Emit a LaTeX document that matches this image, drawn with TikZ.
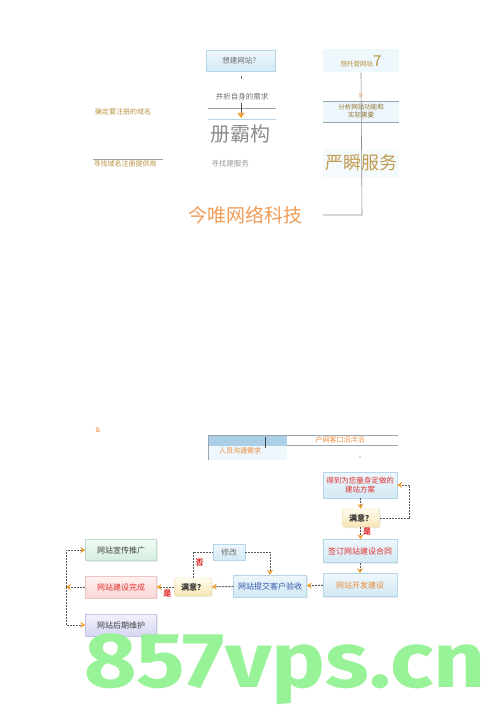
\documentclass[tikz,border=0pt]{standalone}
\usepackage{fontspec}
\setmainfont{Noto Sans CJK SC}
\newfontfamily\markfont{Fira Sans}
\usetikzlibrary{arrows.meta}
\usetikzlibrary{shadows}
\definecolor{boxline}{HTML}{B4D6E8}
\definecolor{boxtop}{HTML}{EEF7FC}
\definecolor{boxbottom}{HTML}{D2E9F4}
\definecolor{headfill}{HTML}{AACFE6}
\definecolor{rulegrey}{HTML}{9AA6AE}
\definecolor{labelgrey}{HTML}{6E6E6E}
\definecolor{goldtext}{HTML}{B8923E}
\definecolor{orangetext}{HTML}{EC8A3A}
\definecolor{redtext}{HTML}{E03030}
\definecolor{bluetext}{HTML}{3355AA}
\definecolor{flowline}{HTML}{5A5A5A}
\definecolor{tipcolor}{HTML}{F0A030}
\definecolor{queryline}{HTML}{E8D49A}
\definecolor{querytop}{HTML}{FFFCEE}
\definecolor{querybottom}{HTML}{F6E6B4}
\definecolor{pinkline}{HTML}{EEC4C4}
\definecolor{pinktop}{HTML}{FFF2F2}
\definecolor{pinkbottom}{HTML}{FAD6D6}
\definecolor{greenline}{HTML}{BEDDCB}
\definecolor{greentop}{HTML}{F2FBF5}
\definecolor{greenbottom}{HTML}{D4EDDE}
\definecolor{purpleline}{HTML}{C4C4E6}
\definecolor{purpletop}{HTML}{F3F3FD}
\definecolor{purplebottom}{HTML}{D6D6F2}
\definecolor{markgreen}{HTML}{98F298}
\tikzstyle{ask box}=[draw=boxline, top color=boxtop, bottom color=boxbottom, minimum width=69pt, minimum height=21pt, inner sep=0pt, text=labelgrey, font=\fontsize{7.5}{9}\selectfont]
\tikzstyle{host box}=[fill=boxtop, minimum width=76pt, minimum height=23pt, inner sep=0pt, text=goldtext, font=\fontsize{6.5}{8}\selectfont]
\tikzstyle{small note}=[inner sep=0pt, font=\fontsize{7}{8.5}\selectfont]
\tikzstyle{big word}=[inner sep=0pt]
\tikzstyle{thin rule}=[draw=rulegrey, semithick]
\tikzstyle{flow box}=[draw=boxline, top color=boxtop, bottom color=boxbottom, minimum width=74pt, minimum height=23pt, inner sep=1pt, font=\fontsize{8}{9.5}\selectfont, drop shadow={shadow xshift=1pt, shadow yshift=-1pt, opacity=0.15}]
\tikzstyle{query box}=[flow box, draw=queryline, top color=querytop, bottom color=querybottom, rounded corners=2pt, minimum width=37pt, minimum height=18pt, text=black!80, font=\fontsize{8}{9}\selectfont\bfseries]
\tikzstyle{flow arrow}=[draw=flowline, line width=1pt, dash pattern=on 2pt off 1pt, -{Stealth[tipcolor, length=5pt, width=6pt]}]
\tikzstyle{answer}=[text=redtext, inner sep=2pt, font=\fontsize{8}{9}\selectfont\bfseries]
\begin{document}
\begin{tikzpicture}[x=1pt, y=-1pt]
  \useasboundingbox (0,0) rectangle (500,708);

  % upper part
  \node[ask box] (want) at (241,61) {想建网站？};
  \draw[labelgrey] (241,76) -- (241,79);
  \node[small note, text=labelgrey, font=\fontsize{7.5}{9}\selectfont] (needs) at (242,97) {并析自身的需求};
  \draw[thin rule] (208,108) -- (276,108);
  \draw[thin rule, draw=boxline] (208,119) -- (276,119);
  \draw[black!70, semithick, -{Triangle[tipcolor, length=5pt, width=7pt]}] (241,103) -- (241,118);
  \node[big word, text=black!45, font=\fontsize{20}{22}\selectfont] (frame) at (240,134) {册霸构};
  \node[small note, text=goldtext] (domain) at (123,112) {确定要注册的域名};
  \draw[thin rule] (93,159) -- (163,159);
  \node[small note, text=goldtext] (registrar) at (125,164) {寻找域名注册提供商};
  \node[small note, text=black!40, font=\fontsize{7.5}{9}\selectfont] (service) at (230,164) {寻找建服务};

  % right column
  \node[host box] (host) at (361,61) {想托管网站{\fontsize{15}{15}\selectfont 7}};
  \fill[boxtop] (323,101) rectangle (399,122);
  \fill[boxtop!60] (323,149) rectangle (399,178);
  \node[small note, text=orangetext, font=\fontsize{5}{6}\selectfont] (tag) at (361,96) {5r};
  \draw[thin rule] (323,101) -- (399,101);
  \draw[thin rule] (323,122) -- (399,122);
  \draw[thin rule, draw=black!45] (host.south) -- (362,215) -- (323,215);
  \node[small note, align=center, text=goldtext!80!black, font=\fontsize{6.5}{8}\selectfont] (analyse) at (361,111) {分析网站功能和\\实际需要};
  \node[big word, text=goldtext!90, font=\fontsize{18}{20}\selectfont] (serve) at (361,163) {严瞬服务};
  \node[big word, text=orangetext!85, font=\fontsize{19}{21}\selectfont] (company) at (245,215) {今唯网络科技};

  % middle
  \node[small note, text=orangetext] (amp) at (98,430) {\&};
  \fill[headfill] (208,435) rectangle (287,446);
  \fill[boxtop] (208,446) rectangle (287,460);
  \draw[thin rule] (208,460) -- (208,435) -- (398,435);
  \draw[thin rule] (287,445) -- (398,445);
  \draw[black!75, semithick] (265,437) -- (265,448);
  \node[small note, text=orangetext] (talk) at (240,451) {人员沟通需求};
  \node[small note, text=orangetext] (client) at (340,440) {户网客口沿泮沿};
  \fill[black!30] (360,457) circle (0.8);

  % flow chart
  \node[flow box, text=redtext, align=center, minimum height=26pt, font=\fontsize{7.5}{8.5}\selectfont] (plan) at (360,485) {得到为您量身定做的\\建站方案};
  \node[query box] (ok1) at (361,518) {满意？};
  \node[flow box, text=redtext] (contract) at (360,551) {签订网站建设合同};
  \node[flow box, text=orangetext] (develop) at (360,585) {网站开发建设};
  \node[flow box, text=bluetext, minimum width=73pt, minimum height=22pt] (submit) at (270,586) {网站提交客户验收};
  \node[query box] (ok2) at (193,587) {满意？};
  \node[flow box, text=labelgrey, minimum width=32pt, minimum height=16pt] (revise) at (229,552) {修改};
  \node[flow box, draw=pinkline, top color=pinktop, bottom color=pinkbottom, text=redtext, minimum width=71pt, minimum height=22pt] (done) at (121,587) {网站建设完成};
  \node[flow box, draw=greenline, top color=greentop, bottom color=greenbottom, text=black!75, minimum width=71pt, minimum height=21pt] (promote) at (121,550) {网站宣传推广};
  \node[flow box, draw=purpleline, top color=purpletop, bottom color=purplebottom, text=black!75, minimum width=71pt, minimum height=22pt] (maintain) at (121,625) {网站后期维护};
  \coordinate (hub) at (66,587);

  \draw[flow arrow] (plan) -- (ok1);
  \draw[flow arrow] (ok1.east) -- ++(30,0) |- (plan.east);
  \draw[flow arrow] (ok1) -- node[answer, right, pos=0.4] {是} (contract);
  \draw[flow arrow] (contract) -- (develop);
  \draw[flow arrow] (develop) -- (submit);
  \draw[flow arrow] (submit) -- (ok2);
  \draw[flow arrow, -] (ok2.north) |- node[answer, right, pos=0.3] {否} (revise.west);
  \draw[flow arrow] (revise.east) -| (submit.north);
  \draw[flow arrow] (ok2) -- node[answer, below, pos=0.4] {是} (done);
  \draw[flow arrow] (done) -- (hub);
  \draw[flow arrow] (hub) |- (promote);
  \draw[flow arrow] (hub) |- (maintain);

  % watermark
  \node[anchor=base west, inner sep=0pt, text=markgreen, xscale=1.16, font=\markfont\bfseries\fontsize{78}{80}\selectfont] (mark) at (84,687) {857vps.cn};
\end{tikzpicture}
\end{document}
